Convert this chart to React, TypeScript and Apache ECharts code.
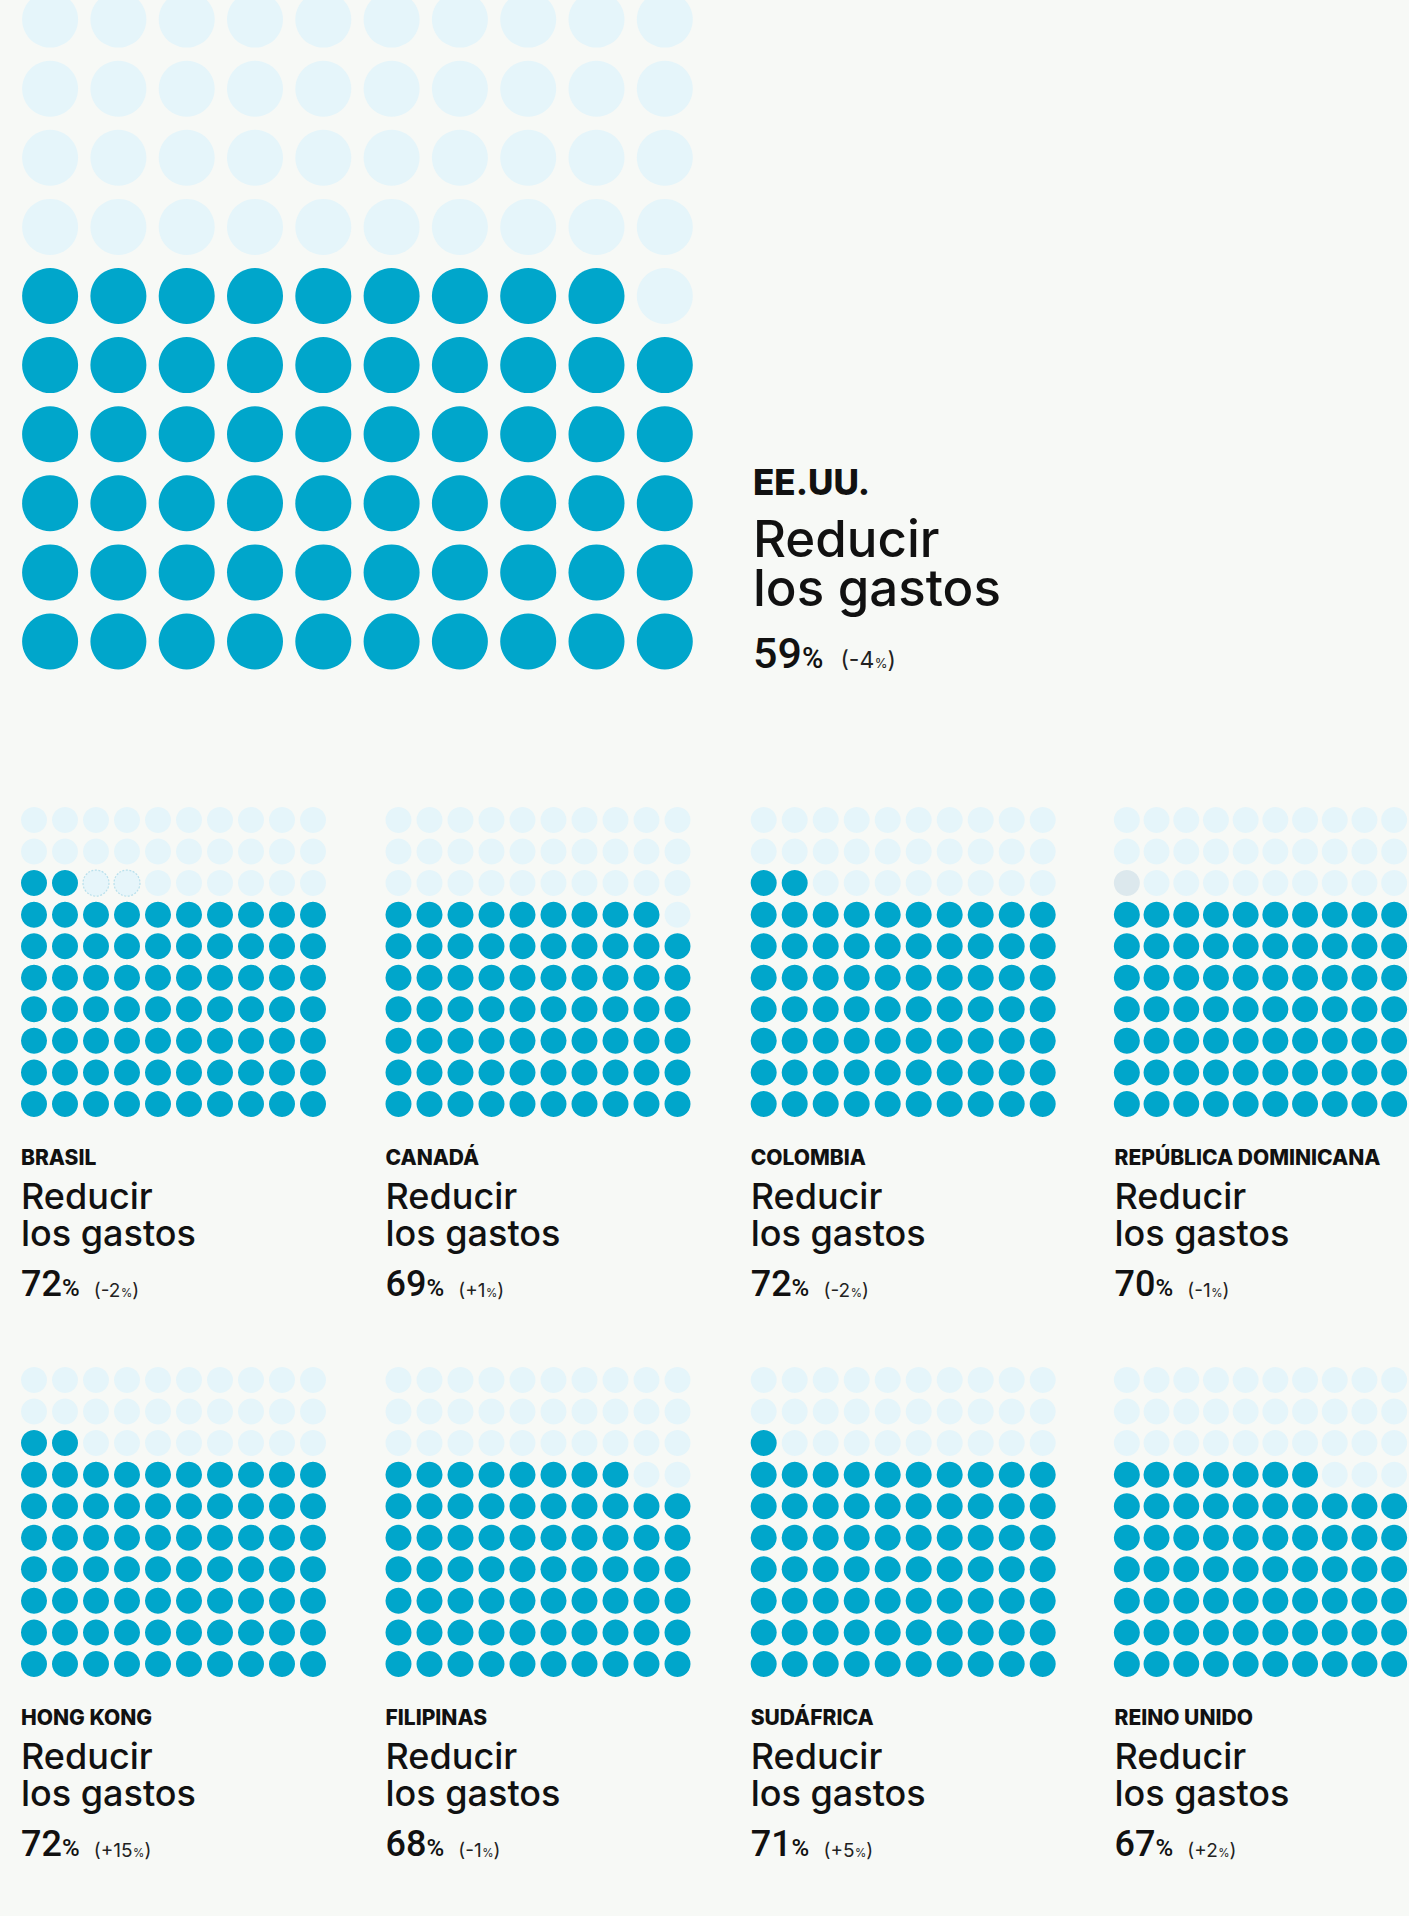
import React, { useEffect, useRef } from 'react';
import * as echarts from 'echarts';

// ---------------- data ----------------
const countries = ['EE.UU.', 'BRASIL', 'CANADÁ', 'COLOMBIA', 'REPÚBLICA DOMINICANA', 'HONG KONG', 'FILIPINAS', 'SUDÁFRICA', 'REINO UNIDO'];
const answerLines = ['Reducir', 'los gastos'];
const values = [59, 72, 69, 72, 70, 72, 68, 71, 67];
const changes = ['-4', '-2', '+1', '-2', '-1', '+15', '-1', '+5', '+2'];
// cells just above the value drawn as "lost" markers
const outlinedLost = [0, 2, 0, 0, 0, 0, 0, 0, 0];
const greyLost = [0, 0, 0, 0, 1, 0, 0, 0, 0];

// ---------------- style ----------------
const W = 1409;
const H = 1916;
const BG = '#f7f9f6';
const DARK = '#00a6cb';
const LIGHT = '#e5f5fa';
const OUT_FILL = '#e6f5fa';
const OUT_LINE = '#b9e0ec';
const GREY = '#dce8ed';
const INK = '#111111';
const FONT = 'Inter, "Noto Sans", sans-serif';
const NUMFONT = 'Roboto, Inter, sans-serif';

type Panel = {
  cx0: number; cy0: number; sx: number; sy: number; dot: number;
  tx: number; base: number[];
  fLabel: number; fLine: number; fNum: number; fPct: number; fChg: number; fChgPct: number;
};

const bigPanel: Panel = {
  cx0: 50.1, cy0: 19.6, sx: 68.3, sy: 69.1, dot: 56,
  tx: 753, base: [495, 557, 605.5, 668],
  fLabel: 35, fLine: 51, fNum: 43, fPct: 29, fChg: 23, fChgPct: 13,
};

const colX = [34, 398.5, 763.7, 1127.5];
const rowY = [820, 1380];
const rowBase = [[1165, 1209, 1246, 1297], [1725, 1769, 1806, 1857]];

const panels: Panel[] = [bigPanel];
for (let r = 0; r < 2; r++) {
  for (let c = 0; c < 4; c++) {
    panels.push({
      cx0: colX[c], cy0: rowY[r], sx: 31, sy: 31.55, dot: 26,
      tx: colX[c] - 13, base: rowBase[r],
      fLabel: 21, fLine: 36, fNum: 36, fPct: 24, fChg: 19, fChgPct: 11.5,
    });
  }
}

function cellData(i: number) {
  const v = values[i];
  const o = outlinedLost[i];
  const g = greyLost[i];
  const data: any[] = [];
  for (let k = 0; k < 100; k++) {
    const col = k % 10;
    const row = 9 - Math.floor(k / 10);
    let itemStyle: any;
    if (k < v) itemStyle = { color: DARK, opacity: 1 };
    else if (k < v + o) itemStyle = { color: OUT_FILL, opacity: 1, borderColor: OUT_LINE, borderWidth: 1.2, borderType: [2, 1.5] };
    else if (k < v + g) itemStyle = { color: GREY, opacity: 1 };
    else itemStyle = { color: LIGHT, opacity: 1 };
    data.push({ value: [col, row], itemStyle });
  }
  return data;
}

function buildOption() {
  const grid: any[] = [];
  const xAxis: any[] = [];
  const yAxis: any[] = [];
  const series: any[] = [];
  const graphic: any[] = [];

  panels.forEach((p, i) => {
    const top = Math.max(0, p.cy0 - p.sy / 2);
    const bottomPx = p.cy0 + 9.5 * p.sy;
    const yMin = (top - p.cy0) / p.sy;
    grid.push({
      left: p.cx0 - p.sx / 2,
      top,
      width: p.sx * 10,
      height: bottomPx - top,
      containLabel: false,
    });
    xAxis.push({ type: 'value', gridIndex: i, min: -0.5, max: 9.5, show: false });
    yAxis.push({ type: 'value', gridIndex: i, min: yMin, max: 9.5, inverse: true, show: false });
    series.push({
      type: 'scatter',
      xAxisIndex: i,
      yAxisIndex: i,
      symbol: 'circle',
      symbolSize: p.dot,
      clip: false,
      silent: true,
      itemStyle: { opacity: 1 },
      data: cellData(i),
    });

    graphic.push({
      type: 'text', x: p.tx, y: p.base[0] - 0.36 * p.fLabel,
      style: { text: countries[i], fontFamily: FONT, fontSize: p.fLabel, fontWeight: 800, fill: INK, align: 'left', verticalAlign: 'middle' },
    });
    const lh = p.base[2] - p.base[1];
    graphic.push({
      type: 'text', x: p.tx, y: p.base[1] - lh / 2 - 0.36 * p.fLine,
      style: {
        text: answerLines.join('\n'), fontFamily: FONT, fontSize: p.fLine, fontWeight: 500, lineHeight: lh,
        fill: INK, align: 'left', verticalAlign: 'top',
      },
    });
    const big = p.fNum;
    const pad = (fs: number) => 0.14 * (big - fs);
    graphic.push({
      type: 'text', x: p.tx, y: p.base[3] - 0.36 * big,
      style: {
        text: `{n|${values[i]}}{p|%}{c|(${changes[i]}}{q|%}{e|)}`,
        align: 'left', verticalAlign: 'middle',
        rich: {
          n: { fontFamily: NUMFONT, fontSize: big, fontWeight: 500, lineHeight: big, verticalAlign: 'bottom', fill: INK },
          p: { fontFamily: NUMFONT, fontSize: p.fPct, fontWeight: 500, lineHeight: p.fPct, verticalAlign: 'bottom', padding: [0, 0, pad(p.fPct), 0], fill: INK },
          c: { fontFamily: FONT, fontSize: p.fChg, fontWeight: 400, lineHeight: p.fChg, verticalAlign: 'bottom', padding: [0, 0, pad(p.fChg), p.fChg * 0.75], fill: '#222222' },
          q: { fontFamily: FONT, fontSize: p.fChgPct, fontWeight: 400, lineHeight: p.fChgPct, verticalAlign: 'bottom', padding: [0, 0, pad(p.fChgPct), 0.5], fill: '#222222' },
          e: { fontFamily: FONT, fontSize: p.fChg, fontWeight: 400, lineHeight: p.fChg, verticalAlign: 'bottom', padding: [0, 0, pad(p.fChg), 0], fill: '#222222' },
        },
      },
    });
  });

  return {
    animation: false,
    backgroundColor: BG,
    grid,
    xAxis,
    yAxis,
    series,
    graphic,
  };
}

export default function App() {
  const ref = useRef<HTMLDivElement>(null);
  useEffect(() => {
    document.body.style.margin = '0';
    document.body.style.background = BG;
    if (!ref.current) return;
    const chart = echarts.init(ref.current, undefined, { renderer: 'svg', width: W, height: H });
    chart.setOption(buildOption() as any);
    return () => chart.dispose();
  }, []);
  return (
    <div
      ref={ref}
      style={{ position: 'absolute', left: 0, top: 0, width: W, height: H, background: BG, overflow: 'hidden' }}
    />
  );
}
